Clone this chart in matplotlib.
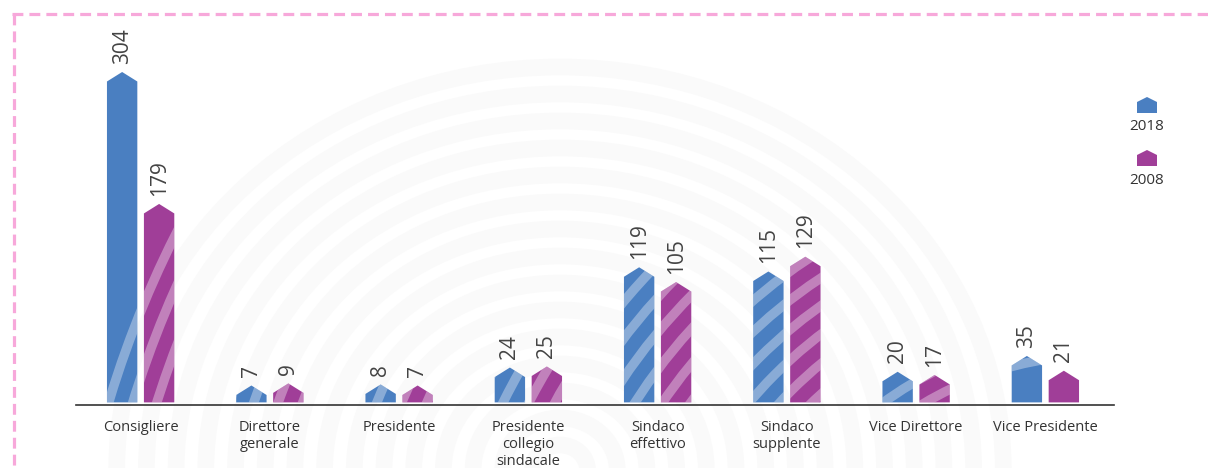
import numpy as np
import matplotlib.pyplot as plt
from matplotlib.patches import Polygon, Ellipse

plt.rcParams['font.family'] = ['Open Sans', 'DejaVu Sans']

# incarichi per ruolo, 2018 vs 2008
categories = ['Consigliere', 'Direttore\ngenerale', 'Presidente',
              'Presidente\ncollegio\nsindacale', 'Sindaco\neffettivo',
              'Sindaco\nsupplente', 'Vice Direttore', 'Vice Presidente']
v2018 = [304, 7, 8, 24, 119, 115, 20, 35]
v2008 = [179, 9, 7, 25, 105, 129, 17, 21]
years = ['2018', '2008']

blue = '#4a7fc1'
purple = '#a03e98'
text_col = '#333333'

W, H = 1208, 468
fig = plt.figure(figsize=(W / 100, H / 100), dpi=100)

# background layer in pixel units: watermark, dashed frame, legend
bg = fig.add_axes([0, 0, 1, 1], zorder=0)
bg.set_xlim(0, W)
bg.set_ylim(H, 0)
bg.axis('off')

# faint fingerprint-like watermark
for r in np.arange(25, 430, 27):
    bg.add_patch(Ellipse((560, 470), 2.2 * r, 2 * r, fill=False,
                         edgecolor='#fafafa', lw=12))

# dashed pink frame on top and left
dash = dict(color='#f7a8da', lw=2.3, dashes=(3.4, 1.9), solid_capstyle='butt')
bg.plot([12, W], [13.5, 13.5], **dash)
bg.plot([13.5, 13.5], [13.5, H], **dash)


def house(x0, x1, base, top, cap):
    xm = (x0 + x1) / 2
    return [(x0, base), (x0, top), (xm, top + cap), (x1, top), (x1, base)]


# main chart
ax = fig.add_axes([76 / W, (H - 404.5) / H, (1114 - 76) / W, (404.5 - 15) / H],
                  zorder=1)
ax.patch.set_alpha(0)

cap = 9
bw = 0.235
off = 0.143
x = np.arange(len(categories))

# ridges used as texture inside the bars
tex_c = (1100, 700)
tex_r = np.arange(345, 1045, 23)

for vals, col, sign in [(v2018, blue, -1), (v2008, purple, 1)]:
    for i, v in enumerate(vals):
        xc = x[i] + sign * off
        poly = Polygon(house(xc - bw / 2, xc + bw / 2, 0, v, cap),
                       closed=True, facecolor=col, edgecolor='none')
        ax.add_patch(poly)
        for r in tex_r:
            e = Ellipse(tex_c, 2 * r, 2 * r, fill=False,
                        edgecolor='white', alpha=0.35, lw=6.8,
                        transform=bg.transData)
            e.set_clip_path(poly)
            ax.add_artist(e)
        ax.annotate(str(v), (xc, v + cap), xytext=(0, 6),
                    textcoords='offset points', rotation=90,
                    ha='center', va='bottom', fontsize=15, color='#444444')

ax.set_xlim(-0.5, len(categories) - 0.5 + 4 / 129)
ax.set_ylim(-2, 367)
ax.set_xticks(x)
ax.set_xticklabels(categories, fontsize=10.5, color=text_col)
ax.tick_params(axis='x', length=0, pad=11)
ax.set_yticks([])
for s in ['top', 'left', 'right']:
    ax.spines[s].set_visible(False)
ax.spines['bottom'].set_color('#333333')
ax.spines['bottom'].set_linewidth(1.2)

# legend: house marker with the year underneath
for col, lab, top in [(blue, years[0], 97), (purple, years[1], 150)]:
    bg.add_patch(Polygon(house(1137, 1157, top + 16, top + 5, -5),
                         closed=True, facecolor=col, edgecolor='none'))
    bg.text(1147, top + 30, lab, ha='center', va='center',
            fontsize=11, color=text_col)

fig.savefig('out.png', dpi=100)
